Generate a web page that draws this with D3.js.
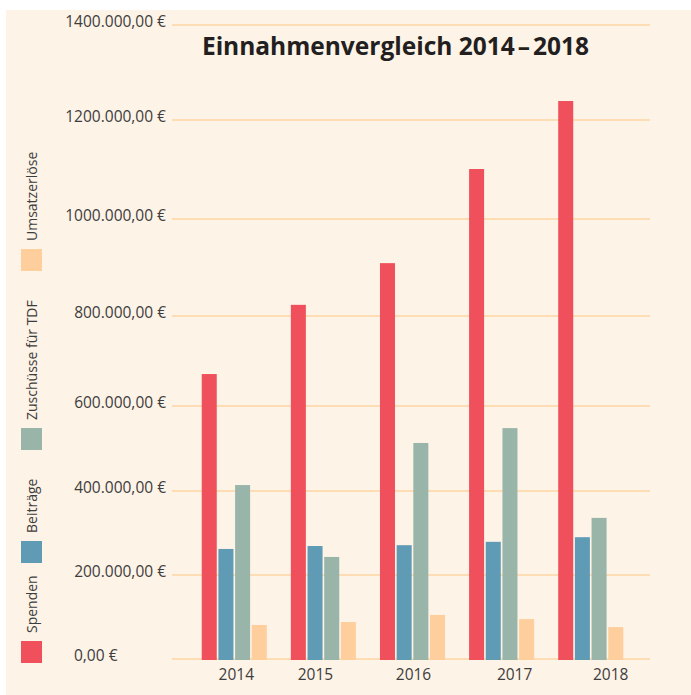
<!DOCTYPE html>
<html>
<head>
<meta charset="utf-8">
<script src="https://cdn.jsdelivr.net/npm/d3@7"></script>
<style>
  html, body { margin: 0; padding: 0; background: #ffffff; }
  svg { display: block; }
  text { font-family: "Open Sans", "Noto Sans", sans-serif; }
</style>
</head>
<body>
<div id="chart"></div>
<script>
// ---- data ----
const years = ["2014", "2015", "2016", "2017", "2018"];
const seriesNames = ["Spenden", "Beiträge", "Zuschüsse für TDF", "Umsatzerlöse"];
const spenden = [671000, 823000, 909000, 1101000, 1240000];
const beitraege = [262000, 269000, 271000, 279000, 290000];
const zuschuesse = [414000, 243000, 513000, 548000, 336000];
const umsatzerloese = [81000, 88000, 105000, 95000, 76000];
const yTickValues = [0, 200000, 400000, 600000, 800000, 1000000, 1200000, 1400000];
const yTickLabels = ["0,00 €", "200.000,00 €", "400.000,00 €", "600.000,00 €",
  "800.000,00 €", "1000.000,00 €", "1200.000,00 €", "1400.000,00 €"];
const seriesColors = ["#f0505b", "#609bb6", "#99b5a9", "#fecf9d"];
const titleParts = ["Einnahmenvergleich 2014", "–", "2018"];

// ---- layout ----
const W = 691, H = 695;
const gridLeft = 172, gridRight = 650;
// the reference grid is not evenly spaced; these are the gridline rows
const gridRows = [659, 575, 491, 406, 316, 219, 120, 25];
const legendSwatchTop = [641, 541, 428, 249];
// the year labels in the reference are not exactly centred under their groups
const yearLabelShift = [2, -8, 1, 13, 20];

const seriesValues = [spenden, beitraege, zuschuesse, umsatzerloese];
const table = years.map((yr, i) => ({
  year: yr,
  values: seriesNames.map((s, j) => ({ key: s, idx: j, value: seriesValues[j][i] }))
}));

const svg = d3.select("#chart").append("svg").attr("width", W).attr("height", H);

svg.append("rect").attr("x", 6).attr("y", 10).attr("width", W - 6).attr("height", H - 10)
  .attr("fill", "#fdf3e7");

const y = d3.scaleLinear().domain(yTickValues).range(gridRows);

const x0 = d3.scaleBand().domain(years).range([175, 650]).paddingInner(0.27).paddingOuter(0.3);
const x1 = d3.scaleBand().domain(seriesNames).range([0, x0.bandwidth()]).paddingInner(0.1);

// gridlines
svg.append("g").selectAll("line").data(yTickValues).join("line")
  .attr("x1", gridLeft).attr("x2", gridRight)
  .attr("y1", d => y(d)).attr("y2", d => y(d))
  .attr("stroke", "#fed6a4").attr("stroke-width", 1.5);

// y axis labels
const yAxis = svg.append("g").attr("transform", `translate(${gridLeft},0)`)
  .call(d3.axisLeft(y).tickValues(yTickValues).tickSize(0).tickPadding(6)
    .tickFormat((d, i) => yTickLabels[i]));
yAxis.select(".domain").remove();
yAxis.selectAll("text")
  .attr("fill", "#3d3d3d").attr("font-size", "15.5px").attr("dy", "0.1em")
  .style("font-family", "'Open Sans', sans-serif");
yAxis.selectAll(".tick").filter(d => d === 0).select("text")
  .attr("text-anchor", "start").attr("x", 74 - gridLeft);

// bars
const groups = svg.append("g").selectAll("g").data(table).join("g")
  .attr("transform", d => `translate(${x0(d.year)},0)`);
groups.selectAll("rect").data(d => d.values).join("rect")
  .attr("x", d => x1(d.key))
  .attr("width", x1.bandwidth())
  .attr("y", d => y(d.value))
  .attr("height", d => y(0) + 1 - y(d.value))
  .attr("fill", d => seriesColors[d.idx]);

// x axis labels
const xAxis = svg.append("g").attr("transform", `translate(0,${y(0)})`)
  .call(d3.axisBottom(x0).tickSize(0).tickPadding(10));
xAxis.select(".domain").remove();
xAxis.selectAll("text").attr("fill", "#3d3d3d").attr("font-size", "15.5px")
  .attr("dx", (d, i) => yearLabelShift[i])
  .style("font-family", "'Open Sans', sans-serif");

// title
const t = svg.append("text").attr("x", 395.5).attr("y", 55).attr("text-anchor", "middle")
  .attr("font-size", "24.5px").attr("font-weight", "bold").attr("fill", "#231f20")
  .style("font-family", "'Open Sans', sans-serif");
t.selectAll("tspan").data(titleParts).join("tspan")
  .attr("dx", (d, i) => i === 0 ? 0 : 3)
  .text(d => d);

// legend (vertical, rotated)
const legend = svg.append("g").selectAll("g").data(seriesNames).join("g");
legend.append("rect")
  .attr("x", 21).attr("y", (d, i) => legendSwatchTop[i])
  .attr("width", 21).attr("height", 22)
  .attr("fill", (d, i) => seriesColors[i]);
legend.append("text")
  .attr("transform", (d, i) => `translate(37,${legendSwatchTop[i] - 8}) rotate(-90)`)
  .attr("font-size", "14px").attr("fill", "#3d3d3d")
  .text(d => d);
</script>
</body>
</html>
